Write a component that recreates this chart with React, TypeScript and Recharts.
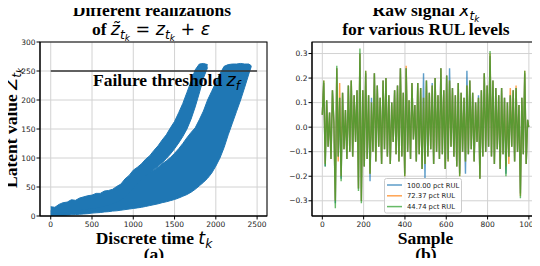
import {
  Area,
  CartesianGrid,
  ComposedChart,
  Line,
  ReferenceLine,
  XAxis,
  YAxis,
} from 'recharts';

// ---- panel (a): latent degradation paths, drawn as two bands of realizations
const steps = [
  0, 50, 100, 150, 200, 250, 300, 350, 400, 450, 500, 550, 600, 650, 700, 750,
  800, 850, 900, 950, 1000, 1050, 1100, 1150, 1200, 1250, 1300, 1350, 1400,
  1450, 1500, 1550, 1600, 1650, 1700, 1750, 1800, 1850, 1900, 1950, 2000, 2050,
  2100, 2150, 2200, 2250, 2300, 2350, 2400, 2430,
];
// faster cluster (reaches the threshold first)
const fastUpper = [
  16, 15, 20, 23, 24, 28, 27, 31, 33, 35, 36, 39, 39, 43, 44, 46, 51, 55, 64,
  70, 79, 84, 90, 98, 104, 113, 121, 131, 140, 152, 163, 178, 194, 213, 232,
  252, 262, 263, 261,
];
const fastLower = [
  3, 4, 5, 6, 7, 8, 9, 10, 11, 12, 13, 14, 15, 17, 19, 21, 24, 28, 33, 40, 48,
  56, 63, 69, 75, 80, 86, 92, 99, 107, 116, 126, 137, 150, 167, 188, 212, 238,
  256,
];
// slower cluster
const slowUpper = [
  9, 10, 12, 14, 16, 18, 19, 21, 23, 25, 27, 29, 31, 33, 35, 38, 41, 45, 50, 55,
  60, 64, 68, 72, 76, 79, 84, 90, 95, 101, 108, 116, 125, 135, 144, 152, 166,
  181, 200, 215, 230, 245, 258, 261, 262, 262, 263, 262, 262, 259,
];
const slowLower = [
  0, 0.5, 1, 1, 1.5, 2, 2.5, 3, 3.5, 4, 5, 5.5, 6, 7, 7.5, 8.5, 9, 10, 11, 12,
  13, 14, 15, 16.5, 18, 19.5, 21, 23, 24.5, 26.5, 28.5, 31, 34, 37, 41, 46, 52,
  58, 65, 74, 86, 100, 118, 140, 160, 180, 200, 222, 245, 258,
];
const threshold = 250;
const timeTicks = [0, 500, 1000, 1500, 2000, 2500];
const latentTicks = [0, 50, 100, 150, 200, 250, 300];

// ---- panel (b): raw signal for three RUL levels
const samples = [
  0, 7, 14, 21, 28, 35, 42, 49, 56, 63, 70, 77, 84, 91, 98, 105, 112, 119, 126,
  133, 140, 147, 154, 161, 168, 175, 182, 189, 196, 203, 210, 217, 224, 231,
  238, 245, 252, 259, 266, 273, 280, 287, 294, 301, 308, 315, 322, 329, 336,
  343, 350, 357, 364, 371, 378, 385, 392, 399, 406, 413, 420, 427, 434, 441,
  448, 455, 462, 469, 476, 483, 490, 497, 504, 511, 518, 525, 532, 539, 546,
  553, 560, 567, 574, 581, 588, 595, 602, 609, 616, 623, 630, 637, 644, 651,
  658, 665, 672, 679, 686, 693, 700, 707, 714, 721, 728, 735, 742, 749, 756,
  763, 770, 777, 784, 791, 798, 805, 812, 819, 826, 833, 840, 847, 854, 861,
  868, 875, 882, 889, 896, 903, 910, 917, 924, 931, 938, 945, 952, 959, 966,
  973, 980, 987, 994, 999,
];
const rul100 = [
  0.05, 0.18, -0.16, 0.11, -0.08, 0.06, -0.13, 0.15, 0.02, -0.31,
  0.24, -0.12, 0.12, -0.21, 0.14, -0.09, 0.07, -0.13, 0.17, -0.1,
  0.19, -0.12, 0.13, -0.06, 0.15, -0.25, 0.3, -0.3, 0.15, -0.16,
  0.22, -0.13, 0.13, -0.22, 0.12, -0.1, 0.22, -0.14, 0.17, -0.08,
  0.12, -0.15, 0.19, -0.09, 0.2, -0.12, 0.13, -0.15, 0.1, -0.06,
  0.15, -0.11, 0.17, -0.14, 0.24, -0.12, 0.14, -0.19, 0.24, -0.1,
  0.11, -0.13, 0.18, -0.05, 0.09, -0.14, 0.18, -0.11, 0.16, -0.17,
  0.22, -0.21, 0.19, -0.12, 0.14, -0.09, 0.18, -0.15, 0.2, -0.1,
  0.13, -0.13, 0.24, -0.11, 0.15, -0.17, 0.21, -0.13, 0.24, -0.08,
  0.16, -0.12, 0.13, -0.16, 0.18, -0.19, 0.14, -0.1, 0.12, -0.19,
  0.23, -0.11, 0.19, -0.09, 0.14, -0.14, 0.1, -0.06, 0.13, -0.21,
  0.15, -0.12, 0.22, -0.1, 0.17, -0.08, 0.29, -0.12, 0.19, -0.15,
  0.16, -0.09, 0.13, -0.17, 0.16, -0.11, 0.12, -0.19, 0.1, -0.12,
  0.13, -0.08, 0.15, -0.14, 0.16, -0.1, 0.09, -0.27, 0.12, -0.11,
  0.22, -0.15, 0.03, 0.0,
];
const rul72 = [
  0.05, 0.19, -0.15, 0.11, -0.08, 0.06, -0.13, 0.15, 0.02, -0.3,
  0.24, -0.14, 0.18, -0.2, 0.14, -0.09, 0.07, -0.13, 0.17, -0.1,
  0.19, -0.12, 0.13, -0.06, 0.15, -0.25, 0.3, -0.3, 0.15, -0.16,
  0.23, -0.13, 0.13, -0.19, 0.1, -0.1, 0.22, -0.14, 0.17, -0.08,
  0.12, -0.15, 0.19, -0.09, 0.2, -0.12, 0.13, -0.15, 0.1, -0.06,
  0.15, -0.11, 0.17, -0.14, 0.24, -0.12, 0.14, -0.2, 0.25, -0.1,
  0.11, -0.13, 0.18, -0.05, 0.09, -0.14, 0.18, -0.11, 0.16, -0.17,
  0.12, -0.15, 0.19, -0.12, 0.14, -0.09, 0.17, -0.15, 0.2, -0.1,
  0.13, -0.13, 0.24, -0.11, 0.15, -0.17, 0.21, -0.14, 0.19, -0.08,
  0.16, -0.12, 0.13, -0.16, 0.18, -0.2, 0.14, -0.1, 0.12, -0.14,
  0.17, -0.11, 0.19, -0.09, 0.14, -0.14, 0.1, -0.06, 0.12, -0.21,
  0.15, -0.12, 0.22, -0.1, 0.17, -0.08, 0.3, -0.12, 0.19, -0.15,
  0.16, -0.09, 0.13, -0.17, 0.16, -0.11, 0.12, -0.16, 0.1, -0.15,
  0.16, -0.08, 0.15, -0.14, 0.17, -0.1, 0.09, -0.28, 0.12, -0.11,
  0.23, -0.15, 0.03, 0.0,
];
const rul44 = [
  0.05, 0.19, -0.16, 0.11, -0.08, 0.06, -0.13, 0.15, 0.02, -0.33,
  0.25, -0.12, 0.12, -0.22, 0.14, -0.09, 0.07, -0.13, 0.17, -0.1,
  0.19, -0.12, 0.13, -0.06, 0.15, -0.26, 0.32, -0.31, 0.15, -0.16,
  0.23, -0.13, 0.13, -0.19, 0.1, -0.1, 0.22, -0.14, 0.17, -0.08,
  0.12, -0.15, 0.19, -0.09, 0.2, -0.12, 0.13, -0.15, 0.1, -0.06,
  0.15, -0.11, 0.17, -0.14, 0.24, -0.12, 0.14, -0.2, 0.24, -0.1,
  0.11, -0.13, 0.18, -0.05, 0.09, -0.14, 0.18, -0.11, 0.16, -0.17,
  0.12, -0.15, 0.19, -0.12, 0.14, -0.09, 0.17, -0.15, 0.2, -0.1,
  0.13, -0.13, 0.24, -0.11, 0.15, -0.17, 0.21, -0.14, 0.19, -0.08,
  0.16, -0.12, 0.13, -0.16, 0.18, -0.2, 0.14, -0.1, 0.12, -0.14,
  0.17, -0.11, 0.19, -0.09, 0.14, -0.14, 0.1, -0.06, 0.12, -0.21,
  0.15, -0.12, 0.22, -0.1, 0.17, -0.08, 0.31, -0.12, 0.19, -0.15,
  0.16, -0.09, 0.13, -0.17, 0.16, -0.11, 0.12, -0.2, 0.1, -0.12,
  0.13, -0.08, 0.15, -0.14, 0.16, -0.1, 0.09, -0.29, 0.12, -0.11,
  0.23, -0.15, 0.03, 0.0,
];
const seriesNames = ['100.00 pct RUL', '72.37 pct RUL', '44.74 pct RUL'];
const seriesColors = ['#1f77b4', '#ff7f0e', '#2ca02c'];
const sampleTicks = [0, 200, 400, 600, 800, 1000];
const signalTicks = [-0.3, -0.2, -0.1, 0.0, 0.1, 0.2, 0.3];

const SERIF = '"Liberation Serif", "Times New Roman", serif';
const MATH = '"DejaVu Sans", sans-serif';
const TICK = { fontSize: 7.5, fill: '#222', fontFamily: MATH };
const GRID = '#d2d2d2';

const bandRows = steps.map((t, i) => ({
  t,
  fast: i < fastUpper.length ? [fastLower[i], fastUpper[i]] : null,
  slow: [slowLower[i], slowUpper[i]],
}));

const signalRows = samples.map((s, i) => ({
  s,
  r100: rul100[i],
  r72: rul72[i],
  r44: rul44[i],
}));

const fmtSignal = (v: number) =>
  v < 0 ? '\u2212' + Math.abs(v).toFixed(1) : v.toFixed(1);

// t_k subscript pieces; the tspan that follows has to undo the shift
const SubTK = ({ size }: { size: number }) => (
  <>
    <tspan fontFamily={MATH} fontStyle='italic' fontSize={size * 0.7} dy={size * 0.2}>
      t
    </tspan>
    <tspan fontFamily={MATH} fontStyle='italic' fontSize={size * 0.5} dy={size * 0.14}>
      k
    </tspan>
  </>
);

export default function App() {
  const fs = 17.5;
  const back = -fs * 0.34;
  return (
    <div
      style={{
        position: 'relative',
        width: 540,
        height: 266,
        margin: -8,
        background: '#fff',
      }}
    >
      <div style={{ position: 'absolute', left: 0, top: 0 }}>
        <ComposedChart
          width={540}
          height={266}
          data={bandRows}
          margin={{ top: 42, right: 273, bottom: 30, left: 0 }}
        >
          <CartesianGrid stroke={GRID} strokeWidth={1} />
          <XAxis
            type='number'
            dataKey='t'
            domain={[-130, 2620]}
            ticks={timeTicks}
            height={20}
            tickSize={3.5}
            tickMargin={2.5}
            tick={TICK}
            stroke='#000'
            allowDataOverflow
          />
          <YAxis
            type='number'
            domain={[0, 300]}
            ticks={latentTicks}
            width={40}
            tickSize={3.5}
            tickMargin={1}
            tick={TICK}
            stroke='#000'
            allowDataOverflow
          />
          <ReferenceLine
            segment={[
              { x: 0, y: threshold },
              { x: 2500, y: threshold },
            ]}
            stroke='#333'
            strokeWidth={1.5}
          />
          <Area
            type='linear'
            dataKey='slow'
            stroke='#1f77b4'
            strokeWidth={1}
            fill='#1f77b4'
            fillOpacity={1}
            isAnimationActive={false}
          />
          <Area
            type='linear'
            dataKey='fast'
            stroke='#1f77b4'
            strokeWidth={1}
            fill='#1f77b4'
            fillOpacity={1}
            isAnimationActive={false}
          />
        </ComposedChart>
      </div>

      <div style={{ position: 'absolute', left: 0, top: 0 }}>
        <ComposedChart
          width={540}
          height={266}
          data={signalRows}
          margin={{ top: 42, right: 1, bottom: 30, left: 0 }}
        >
          <CartesianGrid stroke={GRID} strokeWidth={1} />
          <XAxis
            type='number'
            dataKey='s'
            domain={[-50, 1049]}
            ticks={sampleTicks}
            height={20}
            tickSize={3.5}
            tickMargin={2.5}
            tick={TICK}
            stroke='#000'
            allowDataOverflow
          />
          <YAxis
            type='number'
            domain={[-0.362, 0.347]}
            ticks={signalTicks}
            tickFormatter={fmtSignal}
            width={312}
            tickSize={3.5}
            tickMargin={1}
            tick={TICK}
            stroke='#000'
            allowDataOverflow
          />
          {['r100', 'r72', 'r44'].map((k, i) => (
            <Line
              key={k}
              type='linear'
              dataKey={k}
              stroke={seriesColors[i]}
              strokeOpacity={0.72}
              strokeWidth={1.4}
              dot={false}
              isAnimationActive={false}
            />
          ))}
        </ComposedChart>
      </div>

      <svg
        width={540}
        height={266}
        style={{ position: 'absolute', left: 0, top: 0 }}
      >
        {/* frames */}
        <rect x={40} y={42} width={227} height={174} fill='none' stroke='#000' strokeWidth={1} />
        <rect x={312} y={42} width={227.3} height={174} fill='none' stroke='#000' strokeWidth={1} />

        {/* panel (a) texts */}
        <text x={152} y={16} textAnchor='middle' fontFamily={SERIF} fontWeight='bold' fontSize={fs}>
          Different realizations
        </text>
        <text x={151} y={35} textAnchor='middle' fontSize={fs}>
          <tspan fontFamily={SERIF} fontWeight='bold'>of{'\u00a0'}</tspan>
          <tspan fontFamily={MATH} fontStyle='italic'>z{'\u0303'}</tspan>
          <SubTK size={fs} />
          <tspan fontFamily={MATH} dy={back}>{'\u00a0=\u00a0'}</tspan>
          <tspan fontFamily={MATH} fontStyle='italic'>z</tspan>
          <SubTK size={fs} />
          <tspan fontFamily={MATH} dy={back}>{'\u00a0+\u00a0'}</tspan>
          <tspan fontFamily={MATH} fontStyle='italic'>ε</tspan>
        </text>
        <text x={93} y={86} fontSize={fs}>
          <tspan fontFamily={SERIF} fontWeight='bold'>Failure threshold{'\u00a0'}</tspan>
          <tspan fontFamily={MATH} fontStyle='italic'>z</tspan>
          <tspan fontFamily={MATH} fontStyle='italic' fontSize={fs * 0.7} dy={fs * 0.2}>f</tspan>
        </text>
        <text
          transform='translate(17,128) rotate(-90)'
          textAnchor='middle'
          fontSize={fs}
        >
          <tspan fontFamily={SERIF} fontWeight='bold'>Latent value{'\u00a0'}</tspan>
          <tspan fontFamily={MATH} fontStyle='italic'>Z</tspan>
          <SubTK size={fs} />
        </text>
        <text x={154} y={244} textAnchor='middle' fontSize={fs}>
          <tspan fontFamily={SERIF} fontWeight='bold'>Discrete time{'\u00a0'}</tspan>
          <tspan fontFamily={MATH} fontStyle='italic'>t</tspan>
          <tspan fontFamily={MATH} fontStyle='italic' fontSize={fs * 0.7} dy={fs * 0.2}>k</tspan>
        </text>
        <text x={154} y={260} textAnchor='middle' fontFamily={SERIF} fontWeight='bold' fontSize={fs}>
          (a)
        </text>

        {/* panel (b) texts */}
        <text x={426} y={16} textAnchor='middle' fontSize={fs}>
          <tspan fontFamily={SERIF} fontWeight='bold'>Raw signal{'\u00a0'}</tspan>
          <tspan fontFamily={MATH} fontStyle='italic'>x</tspan>
          <SubTK size={fs} />
        </text>
        <text x={426} y={35} textAnchor='middle' fontFamily={SERIF} fontWeight='bold' fontSize={fs}>
          for various RUL levels
        </text>
        <text x={425.5} y={244} textAnchor='middle' fontFamily={SERIF} fontWeight='bold' fontSize={fs}>
          Sample
        </text>
        <text x={426} y={260} textAnchor='middle' fontFamily={SERIF} fontWeight='bold' fontSize={fs}>
          (b)
        </text>

        {/* legend */}
        <rect
          x={384.5}
          y={178.5}
          width={77}
          height={34.5}
          rx={2}
          fill='#fff'
          fillOpacity={0.8}
          stroke='#cccccc'
          strokeWidth={1}
        />
        {seriesNames.map((name, i) => (
          <g key={name}>
            <line
              x1={387}
              x2={402}
              y1={185 + i * 10.8}
              y2={185 + i * 10.8}
              stroke={seriesColors[i]}
              strokeOpacity={0.72}
              strokeWidth={1.5}
            />
            <text
              x={407}
              y={185 + i * 10.8 + 2.5}
              fontFamily={MATH}
              fontSize={6.8}
              fill='#222'
            >
              {name}
            </text>
          </g>
        ))}
      </svg>
    </div>
  );
}
